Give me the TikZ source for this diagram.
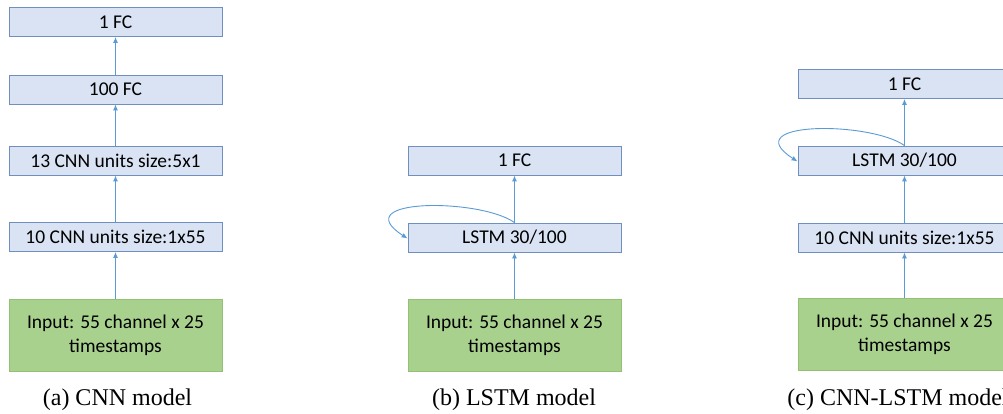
\documentclass[tikz,border=0pt]{standalone}
\usepackage{fontspec}
\setmainfont{Liberation Serif}
\newfontfamily\boxfont{Carlito}
\usetikzlibrary{arrows.meta}
\definecolor{layerfill}{HTML}{DAE3F3}
\definecolor{layerline}{HTML}{6F8FBF}
\definecolor{inputfill}{HTML}{A9D18E}
\definecolor{inputline}{HTML}{93C072}
\definecolor{flow}{HTML}{5B9BD5}
\tikzset{
  layer/.style={draw=layerline, fill=layerfill, line width=0.9pt,
    minimum width=213pt, minimum height=29pt, inner sep=0pt,
    font=\boxfont\fontsize{19.5pt}{23pt}\selectfont},
  inputbox/.style={draw=inputline, fill=inputfill, line width=0.9pt,
    minimum width=213pt, minimum height=72pt, inner sep=0pt, align=center,
    font=\boxfont\fontsize{19.5pt}{24pt}\selectfont},
  flowarrow/.style={draw=flow, line width=0.9pt, -{Latex[length=6pt,width=5pt]}},
  caption/.style={font=\fontsize{24pt}{27pt}\selectfont, inner sep=0pt}
}
\begin{document}
\begin{tikzpicture}[x=1pt, y=-1pt]
\useasboundingbox (0,0) rectangle (1003,414);
\fill[white] (0,0) rectangle (1003,414);

% (a) CNN model
\node[layer]    (afc1)   at (115.5,22)  {1 FC};
\node[layer]    (afc100) at (115.5,89.5) {100 FC};
\node[layer]    (acnn2)  at (115.5,160.5) {13 CNN units size:5x1};
\node[layer]    (acnn1)  at (115.5,237) {10 CNN units size:1x55};
\node[inputbox] (ain)    at (115.5,335) {Input: 55 channel x 25\\timestamps};
\draw[flowarrow] (afc100) -- (afc1);
\draw[flowarrow] (acnn2) -- (afc100);
\draw[flowarrow] (acnn1) -- (acnn2);
\draw[flowarrow] (ain) -- (acnn1);
\node[caption] (acap) at (117.5,400) {(a) CNN model};

% (b) LSTM model
\node[layer]    (bfc1)  at (514.5,160.5) {1 FC};
\node[layer]    (blstm) at (514.5,237.5) {LSTM 30/100};
\node[inputbox] (bin)   at (514.5,335) {Input: 55 channel x 25\\timestamps};
\draw[flowarrow] (blstm) -- (bfc1);
\draw[flowarrow] (bin) -- (blstm);
\draw[flowarrow] (blstm.north) .. controls (480,198) and (345,198) .. ([yshift=-1pt]blstm.west);
\node[caption] (bcap) at (514,400) {(b) LSTM model};

% (c) CNN-LSTM model
\node[layer]    (cfc1)  at (904.5,84)  {1 FC};
\node[layer]    (clstm) at (904.5,160.5) {LSTM 30/100};
\node[layer]    (ccnn)  at (904.5,237.5) {10 CNN units size:1x55};
\node[inputbox] (cin)   at (904.5,334.5) {Input: 55 channel x 25\\timestamps};
\draw[flowarrow] (clstm) -- (cfc1);
\draw[flowarrow] (ccnn) -- (clstm);
\draw[flowarrow] (cin) -- (ccnn);
\draw[flowarrow] (clstm.north) .. controls (870,121) and (735,121) .. ([yshift=-1pt]clstm.west);
\node[caption] (ccap) at (898,400) {(c) CNN-LSTM model};
\end{tikzpicture}
\end{document}
